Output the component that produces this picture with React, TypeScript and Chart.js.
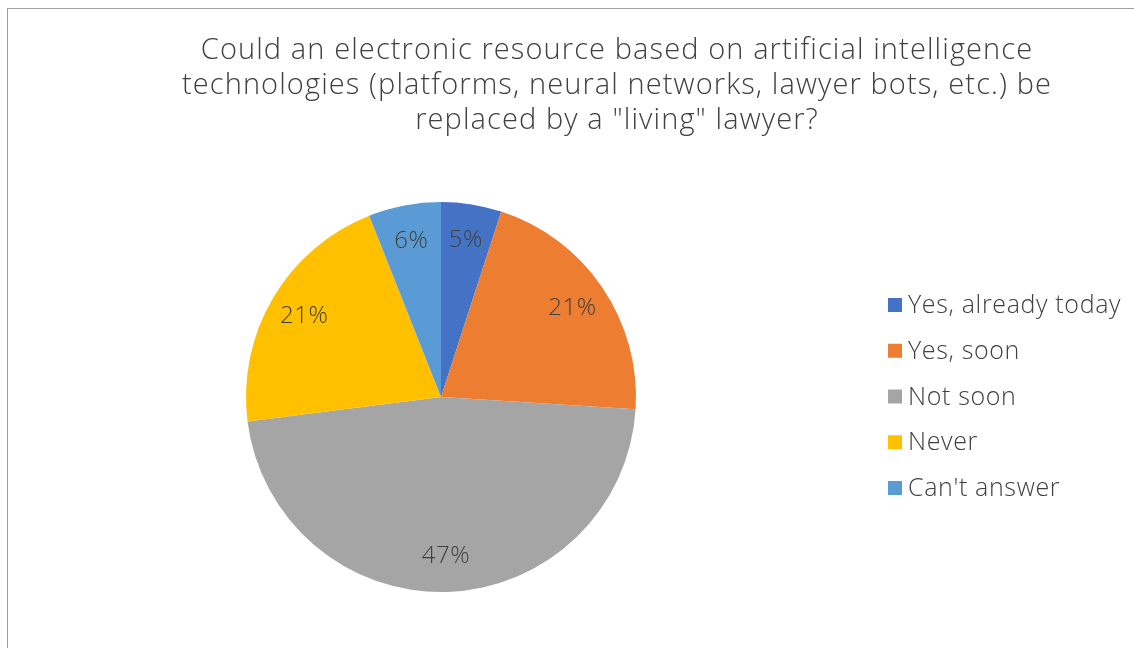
import { useEffect, useRef } from "react";
import { Chart, registerables } from "chart.js";

Chart.register(...registerables);

const titleLines = [
  "Could an electronic resource based on artificial intelligence",
  "technologies (platforms, neural networks, lawyer bots, etc.) be",
  'replaced by a "living" lawyer?',
];
const categories = ["Yes, already today", "Yes, soon", "Not soon", "Never", "Can't answer"];
const values = [5, 21, 47, 21, 6];
const colors = ["#4472C4", "#ED7D31", "#A5A5A5", "#FFC000", "#5B9BD5"];

const FONT = "'Open Sans', 'Noto Sans', sans-serif";
const W = 1126;
const H = 639;

const decorPlugin = {
  id: "decor",
  afterDraw(chart: any) {
    const ctx = chart.ctx as any;
    ctx.save();
    // title
    ctx.fillStyle = "#404040";
    ctx.font = `300 29px ${FONT}`;
    ctx.letterSpacing = "1.1px";
    ctx.textAlign = "center";
    ctx.textBaseline = "alphabetic";
    const titleX = 609;
    const titleBase = 49.5;
    const titleStep = 35;
    titleLines.forEach((line, i) => ctx.fillText(line, titleX, titleBase + i * titleStep));

    // data labels
    const meta = chart.getDatasetMeta(0);
    ctx.fillStyle = "#404040";
    ctx.font = `300 24px ${FONT}`;
    ctx.letterSpacing = "0.5px";
    ctx.textAlign = "center";
    ctx.textBaseline = "middle";
    meta.data.forEach((arc: any, i: number) => {
      const p = arc.getProps(["x", "y", "startAngle", "endAngle", "outerRadius"], true);
      const mid = (p.startAngle + p.endAngle) / 2;
      const r = p.outerRadius * 0.815;
      ctx.fillText(`${values[i]}%`, p.x + Math.cos(mid) * r, p.y + Math.sin(mid) * r);
    });

    // legend
    const boxX = 880;
    const textX = 900;
    const top = 296;
    const step = 45.75;
    const box = 14;
    ctx.font = `300 25px ${FONT}`;
    ctx.letterSpacing = "0.65px";
    ctx.textAlign = "left";
    ctx.textBaseline = "middle";
    categories.forEach((c, i) => {
      const y = top + i * step;
      ctx.fillStyle = colors[i];
      ctx.fillRect(boxX, y - box / 2, box, box);
      ctx.fillStyle = "#404040";
      ctx.fillText(c, textX, y + 1);
    });
    ctx.restore();
  },
};

export default function App() {
  const ref = useRef<HTMLCanvasElement>(null);
  useEffect(() => {
    if (!ref.current) return;
    const chart = new Chart(ref.current, {
      type: "pie",
      data: {
        labels: categories,
        datasets: [
          {
            data: values,
            backgroundColor: colors,
            borderWidth: 0,
          },
        ],
      },
      options: {
        responsive: false,
        animation: false,
        layout: { padding: { left: 238, right: 498, top: 193, bottom: 56 } },
        plugins: {
          legend: { display: false },
          title: { display: false },
          tooltip: { enabled: false },
        },
      },
      plugins: [decorPlugin],
    });
    return () => chart.destroy();
  }, []);
  return (
    <div
      style={{
        position: "fixed",
        left: 7,
        top: 8,
        width: W + 1,
        height: H + 1,
        borderLeft: "1px solid #a0a0a0",
        borderTop: "1px solid #a0a0a0",
        background: "#fff",
        overflow: "hidden",
      }}
    >
      <canvas ref={ref} width={W} height={H} style={{ display: "block", width: W, height: H }} />
    </div>
  );
}
